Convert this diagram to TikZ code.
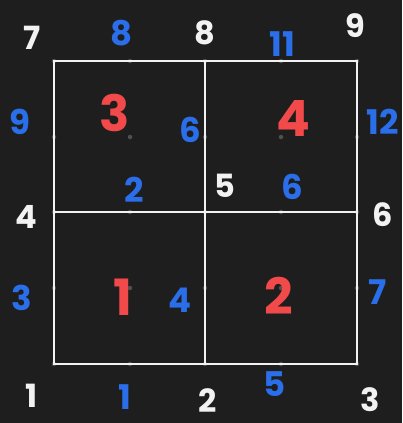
\documentclass[tikz,border=0pt]{standalone}
\usepackage{fontspec}
\setmainfont{Poppins}
\definecolor{bg}{HTML}{1E1E1E}
\definecolor{hblue}{HTML}{2A6EEA}
\definecolor{hred}{HTML}{F24A4A}
\definecolor{hwhite}{HTML}{F2F2F2}
\definecolor{dotc}{HTML}{505050}
\begin{document}
\begin{tikzpicture}[x=1pt,y=-1pt,
  gridline/.style={draw=hwhite,line width=1.8pt},
  dotmark/.style={fill=dotc,circle,inner sep=0pt,minimum size=4.5pt},
  wnum/.style={text=hwhite,font=\fontsize{32}{32}\selectfont\bfseries,inner sep=0pt},
  bnum/.style={text=hblue,font=\fontsize{34}{34}\selectfont\bfseries,inner sep=0pt},
  rnum/.style={text=hred,font=\fontsize{50}{50}\selectfont\bfseries,inner sep=0pt}]
\fill[bg] (0,0) rectangle (402,423);
\useasboundingbox (0,0) rectangle (402,423);
% grid dots
\foreach \x in {54,130,205,281,357}{\foreach \y in {61,137,212,288,364}{\node[dotmark] at (\x,\y) {};}}
% grid
\coordinate (tl) at (54,61);
\coordinate (br) at (357,364);
\coordinate (tm) at (205,61);
\coordinate (bm) at (205,364);
\coordinate (lm) at (54,212);
\coordinate (rm) at (357,212);
\draw[gridline] (tl) rectangle (br);
\draw[gridline] (tm) -- (bm);
\draw[gridline] (lm) -- (rm);
% labels
\node[wnum] (w7) at (32,38) {7};
\node[bnum] (b8) at (122,33) {8};
\node[wnum] (w8) at (205,33) {8};
\node[bnum] (b11) at (282,44) {11};
\node[wnum] (w9) at (355,26) {9};
\node[bnum] (b9) at (20,122) {9};
\node[rnum] (r3) at (115,113) {3};
\node[bnum] (b6a) at (190,130) {6};
\node[rnum] (r4) at (293,118) {4};
\node[bnum] (b12) at (383,122) {12};
\node[bnum] (b2) at (134,190) {2};
\node[wnum] (w5) at (225,186) {5};
\node[bnum] (b6b) at (292,187) {6};
\node[wnum] (w4) at (26,217) {4};
\node[wnum] (w6) at (383,215) {6};
\node[bnum] (b3) at (22,298) {3};
\node[rnum] (r1) at (123,297) {1};
\node[bnum] (b4) at (180,300) {4};
\node[rnum] (r2) at (279,296) {2};
\node[bnum] (b7) at (378,292) {7};
\node[bnum] (b5) at (275,384) {5};
\node[wnum] (w1) at (32,396) {1};
\node[bnum] (b1) at (125,397) {1};
\node[wnum] (w2) at (208,401) {2};
\node[wnum] (w3) at (370,400) {3};
\end{tikzpicture}
\end{document}
